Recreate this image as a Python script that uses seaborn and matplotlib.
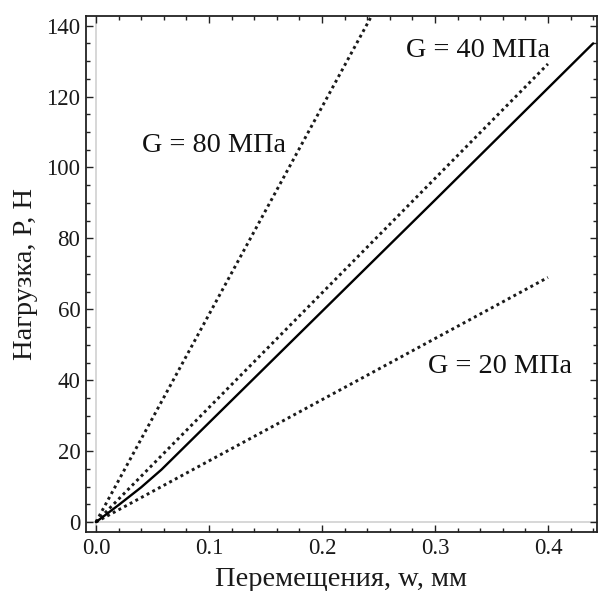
import numpy as np
import pandas as pd
import matplotlib
matplotlib.use("Agg")
import matplotlib.pyplot as plt
from matplotlib.ticker import MultipleLocator
import seaborn as sns

# Measured load–displacement curve
w_meas = [0.0, 0.02, 0.04, 0.058, 0.10, 0.20, 0.30, 0.44]
p_meas = [0.0, 4.8, 9.8, 14.8, 28.0, 59.4, 90.8, 135.0]

# Model curves for different shear moduli
w_g80 = [0.0, 0.25]
p_g80 = [0.0, 146.3]
w_g40 = [0.0, 0.40]
p_g40 = [0.0, 129.2]
w_g20 = [0.0, 0.40]
p_g20 = [0.0, 69.0]

labels = ["G = 80 МПа", "G = 40 МПа", "G = 20 МПа"]
label_pos = [(0.0407, 106.3), (0.2743, 133.1), (0.2935, 43.8)]

x_ticks = [0.0, 0.1, 0.2, 0.3, 0.4]
y_ticks = [0, 20, 40, 60, 80, 100, 120, 140]

sns.set_style("ticks")
plt.rcParams["font.family"] = ["Liberation Serif", "DejaVu Serif"]

fig = plt.figure(figsize=(5.98, 5.91), dpi=100)
ax = fig.add_axes([0.1438, 0.0998, 0.8545, 0.8736])

xlim = (-0.0088, 0.4434)
ylim = (-2.8, 142.8)

# light axis lines through the origin
ax.axvline(0, color="#d4d4d4", lw=1.3, zorder=0)
ax.axhline(0, color="#d4d4d4", lw=1.3, zorder=0)

dotted = (0, (1.0, 1.2))
for w, p in [(w_g80, p_g80), (w_g40, p_g40), (w_g20, p_g20)]:
    df = pd.DataFrame({"w": w, "p": p})
    sns.lineplot(data=df, x="w", y="p", ax=ax, color="#1a1a1a",
                 lw=2.1, linestyle=dotted, estimator=None, sort=False)

df_meas = pd.DataFrame({"w": w_meas, "p": p_meas})
sns.lineplot(data=df_meas, x="w", y="p", ax=ax, color="black",
             lw=1.7, estimator=None, sort=False)

for txt, (tx, ty) in zip(labels, label_pos):
    ax.text(tx, ty, txt, fontsize=20.3, ha="left", va="center", color="#111111")

ax.set_xlim(*xlim)
ax.set_ylim(*ylim)
ax.set_xticks(x_ticks)
ax.set_xticklabels([f"{v:.1f}" for v in x_ticks])
ax.set_yticks(y_ticks)
ax.set_yticklabels([str(v) for v in y_ticks])
ax.xaxis.set_minor_locator(MultipleLocator(0.02))
ax.yaxis.set_minor_locator(MultipleLocator(5))

ax.tick_params(which="both", direction="in", top=True, right=True,
               color="#222222", width=1.0)
ax.tick_params(which="major", length=5, labelsize=16.5, pad=4, labelcolor="#1a1a1a")
ax.tick_params(which="minor", length=3)

for s in ax.spines.values():
    s.set_visible(True)
    s.set_linewidth(1.3)
    s.set_color("#222222")

ax.set_xlabel("Перемещения, w, мм", fontsize=20.5, labelpad=6, color="#1a1a1a")
ax.set_ylabel("Нагрузка, P, Н", fontsize=20.5, labelpad=6, color="#1a1a1a")

fig.savefig("out.png", dpi=100)
